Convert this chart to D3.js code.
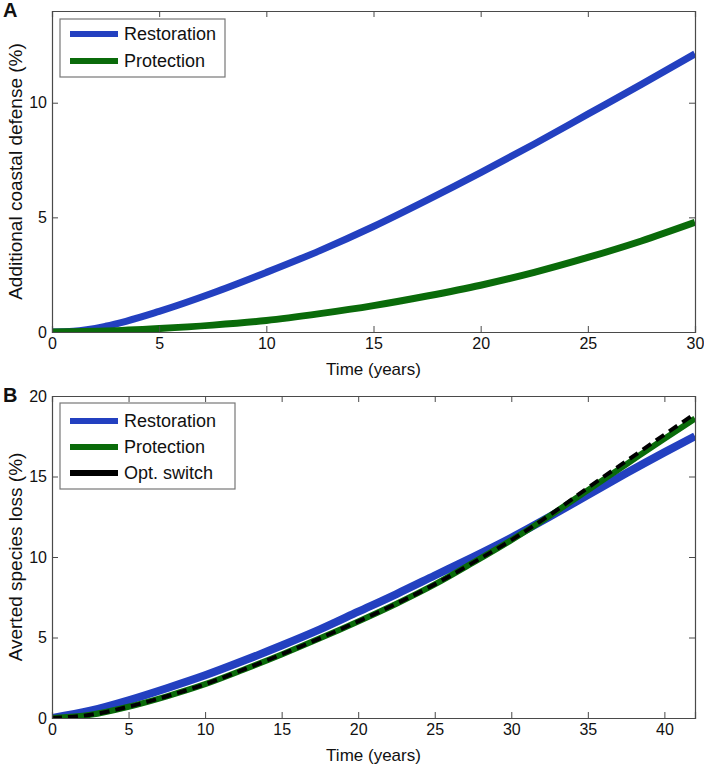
<!DOCTYPE html>
<html>
<head>
<meta charset="utf-8">
<script src="https://cdn.jsdelivr.net/npm/d3@7/dist/d3.min.js"></script>
<style>
  html, body { margin: 0; padding: 0; background: #fff; }
  svg { display: block; }
  text { font-family: "Liberation Sans", Arial, Helvetica, sans-serif; fill: #111; }
</style>
</head>
<body>
<svg id="chart" width="704" height="770"></svg>
<script>
// ---------- Data ----------
// Panel A: additional coastal defense (%) vs time (years)
const timeA = [0, 1, 2.5, 5, 7.5, 10, 12.5, 15, 17.5, 20, 22.5, 25, 27.5, 30];
const restorationA = [0, 0.03, 0.25, 0.9, 1.7, 2.6, 3.55, 4.6, 5.75, 6.95, 8.2, 9.5, 10.8, 12.13];
const protectionA  = [0, 0.01, 0.04, 0.15, 0.3, 0.5, 0.8, 1.15, 1.57, 2.04, 2.6, 3.25, 3.97, 4.78];

// Panel B: averted species loss (%) vs time (years)
const timeB = [0, 2.5, 5, 7.5, 10, 12.5, 15, 17.5, 20, 22.5, 25, 27.5, 30, 32.5, 35, 37.5, 40, 42];
const restorationB = [0, 0.45, 1.1, 1.85, 2.65, 3.55, 4.5, 5.5, 6.6, 7.7, 8.85, 10.0, 11.2, 12.5, 13.85, 15.2, 16.5, 17.5];
const protectionB  = [0, 0.2, 0.7, 1.35, 2.1, 3.0, 3.95, 4.95, 6.0, 7.1, 8.3, 9.65, 11.05, 12.55, 14.15, 15.75, 17.35, 18.6];
const optSwitchB   = [0, 0.2, 0.7, 1.35, 2.1, 3.0, 3.95, 4.95, 6.0, 7.1, 8.3, 9.65, 11.05, 12.6, 14.3, 15.95, 17.6, 18.9];

const xTicksA = [0, 5, 10, 15, 20, 25, 30];
const yTicksA = [0, 5, 10];
const xTicksB = [0, 5, 10, 15, 20, 25, 30, 35, 40];
const yTicksB = [0, 5, 10, 15, 20];

const seriesNames = ["Restoration", "Protection", "Opt. switch"];

// ---------- Styles ----------
const BLUE = "#2340c0";
const GREEN = "#0a6b0a";
const BLACK = "#000";
const AXIS = "#4a4a4a";

const svg = d3.select("#chart");

function panel(opts) {
  const { left, right, top, bottom, xDomain, yDomain, xTicks, yTicks,
          series, xTitle, yTitle, letter, legend } = opts;
  const x = d3.scaleLinear().domain(xDomain).range([left, right]);
  const y = d3.scaleLinear().domain(yDomain).range([bottom, top]);
  const g = svg.append("g");

  // lines
  const clipId = "clip-" + letter;
  svg.append("defs").append("clipPath").attr("id", clipId)
    .append("rect").attr("x", left).attr("y", top - 10)
    .attr("width", right - left).attr("height", bottom - top + 10);
  const lg = g.append("g").attr("clip-path", `url(#${clipId})`);
  series.forEach(s => {
    const line = d3.line().x((d, i) => x(s.t[i])).y(d => y(d)).curve(d3.curveMonotoneX);
    lg.append("path")
      .attr("d", line(s.v))
      .attr("fill", "none")
      .attr("stroke", s.color)
      .attr("stroke-width", s.width)
      .attr("stroke-dasharray", s.dash || null)
      .attr("stroke-linecap", "butt");
  });

  // axes (MATLAB style: ticks inward, box)
  const tick = 6;
  const ax = g.append("g").attr("transform", `translate(0,${bottom})`)
    .call(d3.axisBottom(x).tickValues(xTicks).tickSize(-tick).tickPadding(6).tickFormat(d3.format("d")));
  const ay = g.append("g").attr("transform", `translate(${left},0)`)
    .call(d3.axisLeft(y).tickValues(yTicks).tickSize(-tick).tickPadding(5).tickFormat(d3.format("d")));
  const at = g.append("g").attr("transform", `translate(0,${top})`)
    .call(d3.axisTop(x).tickValues(xTicks).tickSize(-tick).tickFormat(""));
  const ar = g.append("g").attr("transform", `translate(${right},0)`)
    .call(d3.axisRight(y).tickValues(yTicks).tickSize(-tick).tickFormat(""));
  [ax, ay, at, ar].forEach(a => {
    a.select(".domain").attr("stroke", AXIS).attr("stroke-width", 1.2);
    a.selectAll(".tick line").attr("stroke", AXIS).attr("stroke-width", 1);
    a.selectAll(".tick text").attr("font-size", 16).attr("fill", "#111")
      .style("font-family", '"Liberation Sans", Arial, sans-serif');
  });

  // titles
  g.append("text").attr("x", (left + right) / 2).attr("y", bottom + 43)
    .attr("text-anchor", "middle").attr("font-size", 17).text(xTitle);
  g.append("text").attr("transform", `translate(${left - 30},${(top + bottom) / 2}) rotate(-90)`)
    .attr("text-anchor", "middle").attr("font-size", 19).text(yTitle);
  g.append("text").attr("x", 3).attr("y", top + 6).attr("font-size", 20)
    .attr("font-weight", "bold").text(letter);

  // legend
  const lgd = g.append("g");
  lgd.append("rect").attr("x", legend.x).attr("y", legend.y)
    .attr("width", legend.w).attr("height", legend.h)
    .attr("fill", "#fff").attr("stroke", "#777").attr("stroke-width", 1.2);
  series.forEach((s, i) => {
    const yy = legend.y + legend.first + i * legend.step;
    lgd.append("line").attr("x1", legend.x + 10).attr("x2", legend.x + 58)
      .attr("y1", yy).attr("y2", yy)
      .attr("stroke", s.color).attr("stroke-width", 6);
    lgd.append("text").attr("x", legend.x + 64).attr("y", yy + 6)
      .attr("font-size", 18).text(s.name);
  });
}

panel({
  left: 52, right: 695, top: 11, bottom: 332,
  xDomain: [0, 30], yDomain: [0, 14], xTicks: xTicksA, yTicks: yTicksA,
  series: [
    { name: seriesNames[0], t: timeA, v: restorationA, color: BLUE, width: 7 },
    { name: seriesNames[1], t: timeA, v: protectionA, color: GREEN, width: 7 }
  ],
  xTitle: "Time (years)", yTitle: "Additional coastal defense (%)", letter: "A",
  legend: { x: 60, y: 19, w: 165, h: 58, first: 15, step: 27 }
});

panel({
  left: 52, right: 695, top: 396, bottom: 718,
  xDomain: [0, 42], yDomain: [0, 20], xTicks: xTicksB, yTicks: yTicksB,
  series: [
    { name: seriesNames[0], t: timeB, v: restorationB, color: BLUE, width: 8 },
    { name: seriesNames[1], t: timeB, v: protectionB, color: GREEN, width: 6 },
    { name: seriesNames[2], t: timeB, v: optSwitchB, color: BLACK, width: 4, dash: "10,6" }
  ],
  xTitle: "Time (years)", yTitle: "Averted species loss (%)", letter: "B",
  legend: { x: 60, y: 403, w: 175, h: 86, first: 18, step: 26 }
});
</script>
</body>
</html>
